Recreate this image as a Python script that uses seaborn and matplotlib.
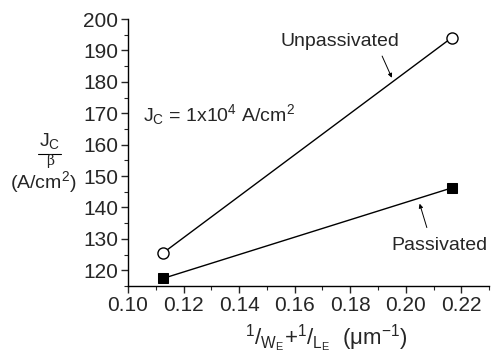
import matplotlib
matplotlib.use("Agg")
import matplotlib.pyplot as plt
import seaborn as sns
import pandas as pd
from matplotlib.ticker import MultipleLocator

x_unpass = [0.1126, 0.2165]
y_unpass = [125.5, 194.0]
x_pass = [0.1126, 0.2165]
y_pass = [117.4, 146.2]
x_ticks = [0.10, 0.12, 0.14, 0.16, 0.18, 0.20, 0.22]
y_ticks = [120, 130, 140, 150, 160, 170, 180, 190, 200]

sns.set_style("ticks")
plt.rcParams['font.family'] = ['Liberation Sans', 'DejaVu Sans']
plt.rcParams['mathtext.fontset'] = 'custom'
plt.rcParams['mathtext.rm'] = 'Liberation Sans'
plt.rcParams['mathtext.it'] = 'Liberation Sans'
plt.rcParams['mathtext.default'] = 'regular'

fig = plt.figure(figsize=(4.93, 3.62), dpi=100)
ax = fig.add_axes([0.2596, 0.21, 0.7324, 0.7375])

df_u = pd.DataFrame({"x": x_unpass, "y": y_unpass})
df_p = pd.DataFrame({"x": x_pass, "y": y_pass})
sns.lineplot(data=df_u, x="x", y="y", ax=ax, color="black", lw=1.0,
             marker="o", markersize=8, markerfacecolor="white",
             markeredgecolor="black", markeredgewidth=1.0)
sns.lineplot(data=df_p, x="x", y="y", ax=ax, color="black", lw=1.0,
             marker="s", markersize=7, markerfacecolor="black",
             markeredgecolor="black")

ax.set_xlim(0.10, 0.23)
ax.set_ylim(115, 200)
ax.set_xticks(x_ticks)
ax.set_xticklabels([f"{v:.2f}" for v in x_ticks])
ax.set_yticks(y_ticks)
ax.set_yticklabels([str(v) for v in y_ticks])
ax.xaxis.set_minor_locator(MultipleLocator(0.01))
ax.yaxis.set_minor_locator(MultipleLocator(5))
ax.tick_params(axis="both", which="major", length=5, width=1, labelsize=15, direction="out", pad=2)
ax.tick_params(axis="both", which="minor", length=3, width=0.8, direction="out")
for s in ["top", "right"]:
    ax.spines[s].set_visible(False)
for s in ["left", "bottom"]:
    ax.spines[s].set_linewidth(1.0)
    ax.spines[s].set_color("black")
ax.set_xlabel("")
ax.set_ylabel("")

ax.text(0.1055, 169.7, r"J$_C$ = 1x10$^4$ A/cm$^2$", fontsize=14, va="center", ha="left")

ax.text(0.1762, 192.7, "Unpassivated", fontsize=14, ha="center", va="center")
ax.annotate("", xy=(0.1950, 181.3), xytext=(0.1915, 188.2),
            arrowprops=dict(arrowstyle="-|>", color="black", lw=0.7,
                            mutation_scale=6, shrinkA=0, shrinkB=0))
ax.text(0.2122, 128.0, "Passivated", fontsize=14, ha="center", va="center")
ax.annotate("", xy=(0.2050, 141.2), xytext=(0.2076, 133.6),
            arrowprops=dict(arrowstyle="-|>", color="black", lw=0.7,
                            mutation_scale=6, shrinkA=0, shrinkB=0))

# y-axis label as a fraction
fig.text(50/493, 1 - 141/362, r"J$_C$", fontsize=14, ha="center", va="center")
fig.add_artist(plt.Line2D([38/493, 61/493], [1 - 154/362, 1 - 154/362], color="black", lw=0.8))
fig.text(50/493, 1 - 161/362, "β", fontsize=10, ha="center", va="center", family="DejaVu Serif")
fig.text(43.5/493, 1 - 182/362, r"(A/cm$^2$)", fontsize=14, ha="center", va="center")

fig.text(326/493, 1 - 339/362, r"$^{1}$/$_{W_E}$+$^{1}$/$_{L_E}$  ($\mu$m$^{-1}$)",
         fontsize=16, ha="center", va="center")

fig.savefig("out.png", dpi=100)
